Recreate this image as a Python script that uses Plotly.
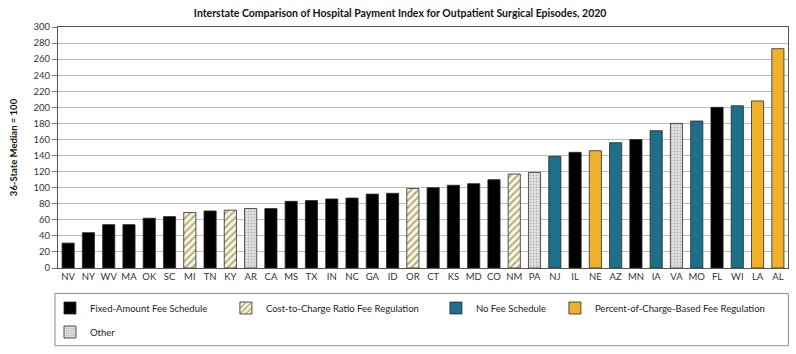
import plotly.graph_objects as go

states = ["NV", "NY", "WV", "MA", "OK", "SC", "MI", "TN", "KY", "AR", "CA", "MS",
          "TX", "IN", "NC", "GA", "ID", "OR", "CT", "KS", "MD", "CO", "NM", "PA",
          "NJ", "IL", "NE", "AZ", "MN", "IA", "VA", "MO", "FL", "WI", "LA", "AL"]
index_values = [31, 44, 54, 54, 62, 64, 69, 71, 72, 74, 74, 83,
                84, 86, 87, 92, 93, 99, 100, 103, 105, 110, 117, 119,
                139, 144, 146, 156, 160, 171, 180, 183, 200, 202, 208, 273]
fee_types = ["F", "F", "F", "F", "F", "F", "C", "F", "C", "O", "F", "F",
             "F", "F", "F", "F", "F", "C", "F", "F", "F", "F", "C", "O",
             "N", "F", "P", "N", "F", "N", "O", "N", "F", "N", "P", "P"]

type_names = {
    "F": "Fixed-Amount Fee Schedule",
    "C": "Cost-to-Charge Ratio Fee Regulation",
    "N": "No Fee Schedule",
    "P": "Percent-of-Charge-Based Fee Regulation",
    "O": "Other",
}
type_order = ["F", "C", "N", "P", "O"]

styles = {
    "F": dict(color="#000000", pattern=dict(shape="")),
    "C": dict(color="#fbf7d6", pattern=dict(shape="/", fgcolor="#5a5840", bgcolor="#fbf7d6", size=5, solidity=0.35)),
    "N": dict(color="#1d6f8a", pattern=dict(shape="")),
    "P": dict(color="#efb12c", pattern=dict(shape="")),
    "O": dict(color="#d9d9d9", pattern=dict(shape=".", fgcolor="#858585", bgcolor="#e6e6e6", size=3, solidity=0.4)),
}

# legend placement (paper coords): (x, y)
legend_pos = {
    "F": (-0.0110, -0.166),
    "C": (0.2300, -0.166),
    "N": (0.5177, -0.166),
    "P": (0.6807, -0.166),
    "O": (-0.0110, -0.2656),
}
legend_ids = {"F": "legend", "C": "legend2", "N": "legend3", "P": "legend4", "O": "legend5"}

font_family = "Lato, 'Open Sans', sans-serif"

fig = go.Figure()
for t in type_order:
    xs = [s for s, ft in zip(states, fee_types) if ft == t]
    ys = [v for v, ft in zip(index_values, fee_types) if ft == t]
    st = styles[t]
    fig.add_trace(go.Bar(
        x=xs, y=ys, name=type_names[t],
        marker=dict(color=st["color"], pattern=st["pattern"],
                    line=dict(color="#2a2a2a", width=0.8)),
        width=0.6,
        legend=legend_ids[t],
        hoverinfo="x+y",
    ))

layout_legends = {}
for t in type_order:
    x, y = legend_pos[t]
    layout_legends[legend_ids[t]] = dict(
        x=x, y=y, xanchor="left", yanchor="middle",
        bgcolor="rgba(0,0,0,0)", borderwidth=0,
        font=dict(family=font_family, size=9.5, color="#222222"),
        orientation="h",
    )

fig.update_layout(
    width=796, height=354,
    margin=dict(l=58, r=8, t=27, b=86),
    paper_bgcolor="white", plot_bgcolor="white",
    barmode="overlay",
    showlegend=True,
    title=dict(
        text="<b>Interstate Comparison of Hospital Payment Index for Outpatient Surgical Episodes, 2020</b>",
        x=0.5027, xanchor="center", y=0.962, yanchor="middle",
        font=dict(family=font_family, size=10.5, color="#111111"),
    ),
    font=dict(family=font_family, size=9.5, color="#333333"),
    **layout_legends,
)

fig.update_xaxes(
    type="category", categoryorder="array", categoryarray=states,
    showline=True, linecolor="#555555", linewidth=1, mirror=True,
    ticks="", showgrid=False,
    tickfont=dict(family=font_family, size=9.5, color="#333333"),
)
fig.update_yaxes(
    range=[0, 300], dtick=20,
    showline=True, linecolor="#555555", linewidth=1, mirror=True,
    ticks="outside", ticklen=5, tickcolor="#777777",
    showgrid=True, gridcolor="#bdbdbd", gridwidth=1,
    zeroline=False,
    tickfont=dict(family=font_family, size=9.5, color="#333333"),
    title=dict(text="<b>36-State Median = 100</b>", standoff=14,
               font=dict(family=font_family, size=9.5, color="#111111")),
)

# legend frame
fig.add_shape(type="rect", xref="paper", yref="paper",
              x0=-0.0041, x1=1.0005, y0=-0.3225, y1=-0.1054,
              line=dict(color="#888888", width=1), fillcolor="rgba(0,0,0,0)")

fig.write_html("out.html")
